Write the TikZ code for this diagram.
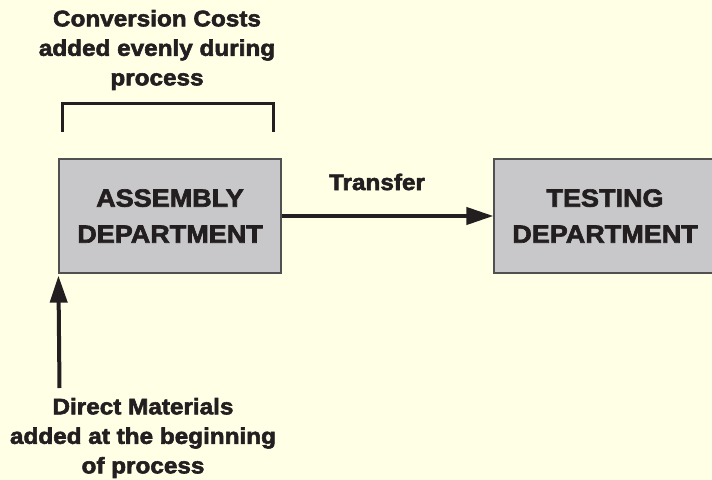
\documentclass[tikz,border=0pt]{standalone}
\usepackage{fontspec}
\setmainfont{Liberation Sans}[FakeStretch=1.08,BoldFeatures={FakeBold=2.5}]
\usetikzlibrary{arrows.meta}
\definecolor{bgc}{RGB}{255,255,230}
\definecolor{boxfill}{RGB}{200,200,202}
\definecolor{boxline}{RGB}{80,80,80}
\definecolor{ink}{RGB}{35,31,32}
\tikzset{
  dept/.style={draw=boxline, line width=1.2bp, fill=boxfill, minimum width=222bp, minimum height=114bp, inner sep=0pt, align=center, text=ink, font=\fontsize{25bp}{36bp}\selectfont\bfseries},
  lbl/.style={align=center, text=ink, inner sep=0pt, font=\fontsize{22.5bp}{29.5bp}\selectfont\bfseries},
  flow/.style={draw=ink, line width=4bp, -{Triangle[length=27bp,width=17bp]}},
  brk/.style={draw=ink, line width=3bp}
}
\begin{document}
\begin{tikzpicture}[x=1bp,y=-1bp]
\useasboundingbox (0,0) rectangle (712,480);
\fill[bgc] (0,0) rectangle (712,480);
\node[dept] (asm) at (170,216) {ASSEMBLY\\DEPARTMENT};
\node[dept] (tst) at (605,216) {TESTING\\DEPARTMENT};
\node[lbl] (conv) at (157,50) {Conversion Costs\\added evenly during\\process};
\node[lbl] (xfer) at (377,182) {Transfer};
\node[lbl] (dm) at (143,438) {Direct Materials\\added at the beginning\\of process};
\draw[brk] (62,132) -- (62,103.5) -- (273,103.5) -- (273,132);
\coordinate (dmtop) at (59.5,388);
\draw[flow] (asm.east) -- (tst.west);
\draw[flow, shorten >=2bp] (dmtop) -- (asm.south west);
\end{tikzpicture}
\end{document}
